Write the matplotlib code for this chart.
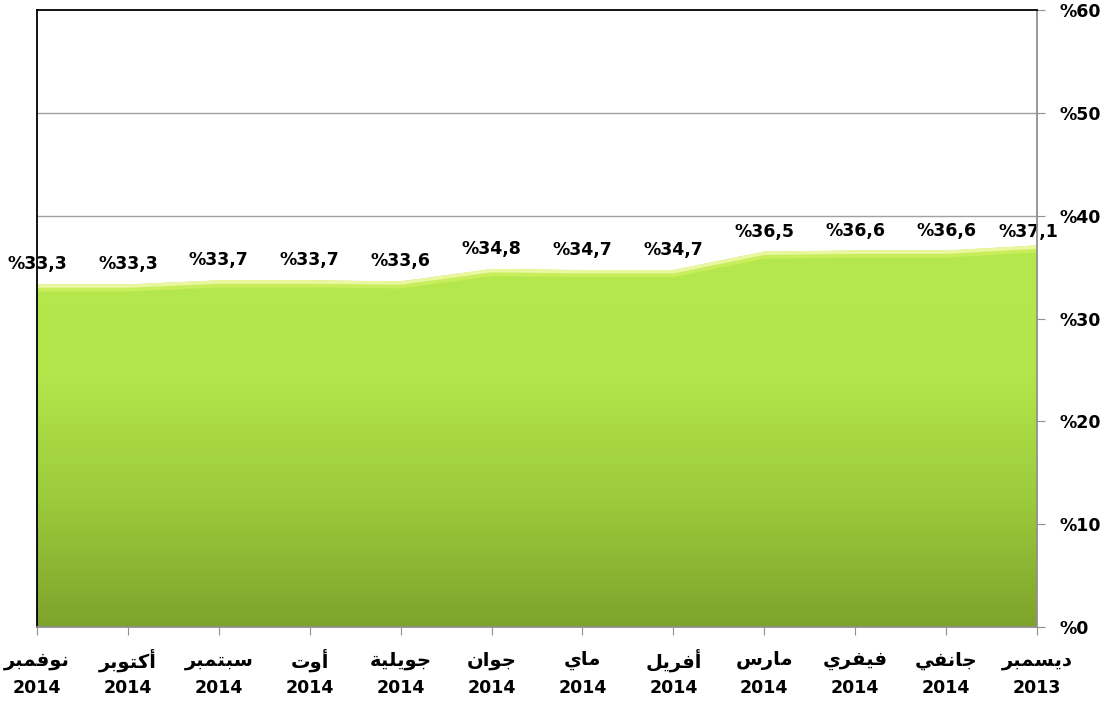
import numpy as np
import matplotlib.pyplot as plt
import matplotlib.transforms as mtransforms
from matplotlib.colors import LinearSegmentedColormap

months = ['نوفمبر', 'أكتوبر', 'سبتمبر', 'أوت', 'جويلية', 'جوان',
          'ماي', 'أفريل', 'مارس', 'فيفري', 'جانفي', 'ديسمبر']
years = ['2014', '2014', '2014', '2014', '2014', '2014',
         '2014', '2014', '2014', '2014', '2014', '2013']
values = [33.3, 33.3, 33.7, 33.7, 33.6, 34.8, 34.7, 34.7, 36.5, 36.6, 36.6, 37.1]
yticks = [0, 10, 20, 30, 40, 50, 60]

# arabic letter forms: isolated, final, initial, medial
forms = {
    'ا': ('\uFE8D', '\uFE8E', None, None),
    'أ': ('\uFE83', '\uFE84', None, None),
    'ب': ('\uFE8F', '\uFE90', '\uFE91', '\uFE92'),
    'ة': ('\uFE93', '\uFE94', None, None),
    'ت': ('\uFE95', '\uFE96', '\uFE97', '\uFE98'),
    'ج': ('\uFE9D', '\uFE9E', '\uFE9F', '\uFEA0'),
    'د': ('\uFEA9', '\uFEAA', None, None),
    'ر': ('\uFEAD', '\uFEAE', None, None),
    'س': ('\uFEB1', '\uFEB2', '\uFEB3', '\uFEB4'),
    'ف': ('\uFED1', '\uFED2', '\uFED3', '\uFED4'),
    'ك': ('\uFED9', '\uFEDA', '\uFEDB', '\uFEDC'),
    'ل': ('\uFEDD', '\uFEDE', '\uFEDF', '\uFEE0'),
    'م': ('\uFEE1', '\uFEE2', '\uFEE3', '\uFEE4'),
    'ن': ('\uFEE5', '\uFEE6', '\uFEE7', '\uFEE8'),
    'و': ('\uFEED', '\uFEEE', None, None),
    'ي': ('\uFEF1', '\uFEF2', '\uFEF3', '\uFEF4'),
}


def shape(word):
    out = []
    n = len(word)
    for i, ch in enumerate(word):
        f = forms[ch]
        jp = i > 0 and forms[word[i - 1]][2] is not None
        jn = i < n - 1 and f[2] is not None
        if jp and jn:
            out.append(f[3])
        elif jp:
            out.append(f[1])
        elif jn:
            out.append(f[2])
        else:
            out.append(f[0])
    return ''.join(reversed(out))


def fmt(v):
    return '%' + ('%.1f' % v).replace('.', ',')


plt.rcParams['font.family'] = 'DejaVu Sans'
plt.rcParams['font.weight'] = 'bold'

fig = plt.figure(figsize=(11.07, 7.04), dpi=100)
ax = fig.add_axes([37 / 1107, 1 - 627 / 704, 1000 / 1107, 617 / 704])

x = np.arange(len(values))
ax.set_xlim(0, len(values) - 1)
ax.set_ylim(0, 60)

for t in yticks[1:-1]:
    ax.axhline(t, color='#a0a0a0', lw=1, zorder=0)

poly = ax.fill_between(x, 0, values, color='none', lw=0, zorder=2)
cmap = LinearSegmentedColormap.from_list('g', ['#7ea32b', '#9ccb3c', '#b3e64b', '#b5e84c'])
grad = np.linspace(0, 1, 256).reshape(-1, 1)
im = ax.imshow(grad, cmap=cmap, aspect='auto', origin='lower',
               extent=[0, len(values) - 1, 0, max(values)], zorder=2)
im.set_clip_path(poly.get_paths()[0], transform=ax.transData)

# light bevel along the top edge, pushed inside the area
down3 = mtransforms.offset_copy(ax.transData, fig=fig, y=-3.5, units='dots')
down1 = mtransforms.offset_copy(ax.transData, fig=fig, y=-1.5, units='dots')
ax.plot(x, values, color='#c8ee5c', lw=5, zorder=3, transform=down3,
        solid_capstyle='butt')
ax.plot(x, values, color='#eaf6a0', lw=2.5, zorder=4, transform=down1,
        solid_capstyle='butt')

for i, (xi, v) in enumerate(zip(x, values)):
    off = (-6, 3) if i == len(values) - 1 else (0, 8)
    ax.annotate(fmt(v), (xi, v), xytext=off, textcoords='offset points',
                ha='center', va='bottom', fontsize=12.5, fontweight='bold', zorder=5)

ax.yaxis.tick_right()
ax.set_yticks(yticks)
ax.set_yticklabels(['%' + str(t) for t in yticks], fontsize=12.5, fontweight='bold')
ax.tick_params(axis='y', length=6, color='#909090', pad=10, direction='out')

ax.set_xticks(x)
ax.set_xticklabels([])
ax.tick_params(axis='x', length=6, color='#909090', direction='out')
tr = mtransforms.blended_transform_factory(ax.transData, fig.transFigure)
for xi, m, y in zip(x, months, years):
    ax.text(xi, 1 - 660 / 704, shape(m), transform=tr, ha='center', va='center',
            fontsize=14, fontweight='bold', clip_on=False)
    ax.text(xi, 1 - 688 / 704, y, transform=tr, ha='center', va='center',
            fontsize=12.5, fontweight='bold', clip_on=False)

ax.spines['left'].set_color('black')
ax.spines['top'].set_color('black')
ax.spines['right'].set_color('#909090')
ax.spines['bottom'].set_color('#909090')
for s in ax.spines.values():
    s.set_linewidth(1.3)
    s.set_zorder(6)

fig.savefig('out.png', dpi=100)
